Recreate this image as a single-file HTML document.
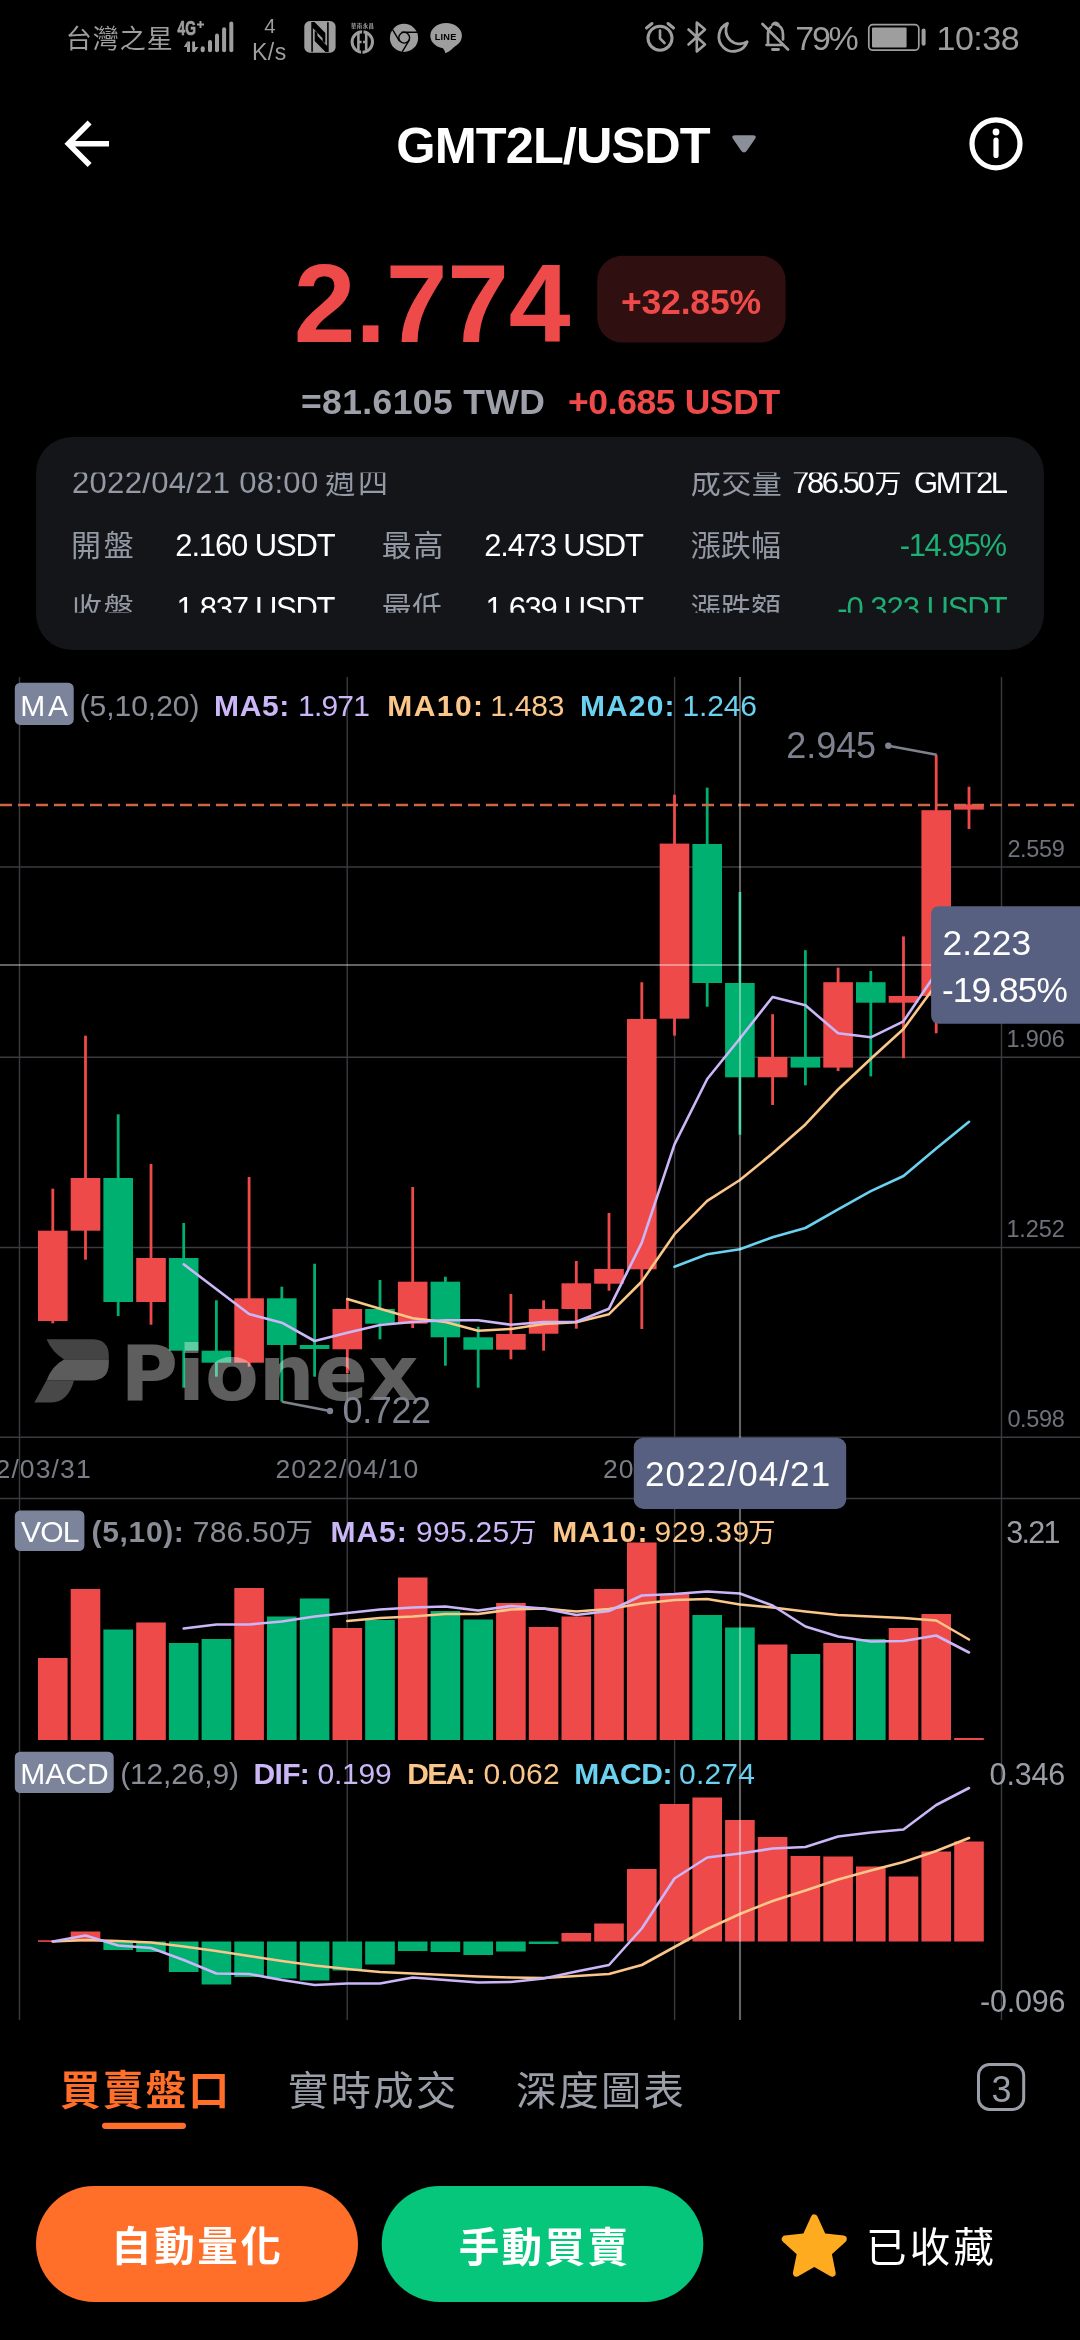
<!DOCTYPE html>
<html lang="zh-Hant">
<head>
<meta charset="utf-8">
<meta name="viewport" content="width=1080">
<title>GMT2L/USDT</title>
<style>
html,body{margin:0;padding:0;background:#000;}
body{width:1080px;height:2340px;position:relative;overflow:hidden;}
svg{position:absolute;left:0;top:0;display:block;will-change:transform;}
svg text{font-family:"Liberation Sans","Noto Sans CJK TC",sans-serif;white-space:pre;}
</style>
</head>
<body>
<svg width="1080" height="2340" viewBox="0 0 1080 2340">
<defs><clipPath id="pclip"><rect x="0" y="472.6" width="1080" height="140.2"/></clipPath></defs>
<rect x="0" y="0" width="1080" height="2340" fill="#000"/>
<g id="status">
<text x="65.7" y="47.7" font-size="26" fill="#9e9e9e" letter-spacing="1.00">台灣之星</text>
<text x="177.6" y="35.4" font-size="20" font-weight="bold" fill="#9e9e9e" stroke="#9e9e9e" stroke-width="0.7" textLength="18.4" lengthAdjust="spacingAndGlyphs">4G</text>
<path d="M200.5 21 V28 M197 24.5 H204" stroke="#9e9e9e" stroke-width="2" fill="none"/>
<path d="M187 52.1 V41.6 H190 V52.1 Z M187.2 41.6 L183.8 46.9 H187.2 Z" fill="#9e9e9e"/>
<path d="M192.2 41.4 V52.1 H195 V41.4 Z M194.8 52.1 L198.6 46.9 H194.8 Z" fill="#9e9e9e"/>
<rect x="200.7" y="46.2" width="4" height="6.1" rx="2" fill="#9e9e9e"/>
<rect x="208.0" y="39.9" width="4" height="12.4" rx="2" fill="#9e9e9e"/>
<rect x="215.0" y="33.6" width="4" height="18.7" rx="2" fill="#9e9e9e"/>
<rect x="222.1" y="27.3" width="4" height="25.0" rx="2" fill="#9e9e9e"/>
<rect x="229.3" y="21.4" width="4" height="30.9" rx="2" fill="#9e9e9e"/>
<text x="264.3" y="33.2" font-size="20.5" fill="#9e9e9e">4</text>
<text x="251.9" y="60.0" font-size="23" fill="#9e9e9e" letter-spacing="0.55">K/s</text>
<rect x="304.3" y="21.1" width="31.3" height="31.6" rx="5.5" fill="#9e9e9e"/>
<path d="M311.3 22 L314.5 22 L325.3 33 L325.3 43.3 L322.6 41 L322.6 38.2 L312.9 28 L312.9 51.8 L311.3 51.8 Z" fill="#000"/>
<path d="M328.7 52 L325.5 52 L314.7 41 L314.7 30.7 L317.4 33 L317.4 35.8 L327.1 46 L327.1 22.2 L328.7 22.2 Z" fill="#000"/>
<circle cx="362.3" cy="42" r="10.2" fill="none" stroke="#9e9e9e" stroke-width="3"/>
<path d="M358.4 33.5 V50.5 M366.2 33.5 V50.5 M358.4 42 H366.2" stroke="#9e9e9e" stroke-width="2.6" fill="none"/>
<path d="M362.9 30 L361.7 54" stroke="#000" stroke-width="1.4"/>
<text x="351" y="28" font-size="5.4" font-weight="bold" fill="#9e9e9e" textLength="23">華南永昌</text>
<circle cx="404" cy="37.9" r="14.1" fill="#9e9e9e"/>
<circle cx="404.2" cy="37.7" r="5.4" fill="none" stroke="#000" stroke-width="1.4"/>
<path d="M401.5 32.2 H417.6 M392.6 29.6 L399.6 41.3 M409.4 39.8 L402.2 51.9" stroke="#000" stroke-width="1.4" fill="none"/>
<ellipse cx="446.1" cy="35.8" rx="15.8" ry="12.7" fill="#9e9e9e"/>
<path d="M441 46.5 Q445 49.5 445.3 53.2 Q452 50.5 456 44.5 Z" fill="#9e9e9e"/>
<text x="434.8" y="39.7" font-size="9.2" fill="#000" font-weight="bold" letter-spacing="0.20">LINE</text>
<circle cx="660" cy="38.2" r="12" fill="none" stroke="#9e9e9e" stroke-width="3"/>
<path d="M660 30.5 V38.5 L664.5 43" fill="none" stroke="#9e9e9e" stroke-width="2.6" stroke-linecap="round"/>
<path d="M646.5 28 L652 23.5 M673.5 28 L668 23.5" stroke="#9e9e9e" stroke-width="3" stroke-linecap="round"/>
<path d="M688.5 29.5 L705 44.5 L696.8 51.5 V22.5 L705 29.5 L688.5 44.5" fill="none" stroke="#9e9e9e" stroke-width="2.6" stroke-linejoin="round" stroke-linecap="round"/>
<path d="M727.6 23.4 A14.6 14.6 0 1 0 747.2 41.7 A13.8 13.8 0 0 1 727.6 23.4 Z" fill="none" stroke="#9e9e9e" stroke-width="2.8" stroke-linejoin="round"/>
<path d="M766.5 45 H783 M768 45 V34.5 Q768 29 771 27 M775.5 24.5 Q783 26 783 34.5 V39.5 M772.5 24.7 Q775.5 21 778.5 24.7" fill="none" stroke="#9e9e9e" stroke-width="2.7" stroke-linecap="round"/>
<path d="M772.5 49.5 H778.5" stroke="#9e9e9e" stroke-width="2.8" stroke-linecap="round"/>
<path d="M762.5 24 L788 49.5" stroke="#9e9e9e" stroke-width="2.7" stroke-linecap="round"/>
<text x="795.2" y="50.0" font-size="34" fill="#9e9e9e" letter-spacing="-2.20">79%</text>
<rect x="868.8" y="24.6" width="50" height="25.6" rx="4" fill="none" stroke="#9e9e9e" stroke-width="1.7"/>
<rect x="872" y="27.4" width="34.6" height="20" rx="1" fill="#9e9e9e"/>
<rect x="921.6" y="28.6" width="4" height="17.2" rx="2" fill="#9e9e9e"/>
<text x="936.5" y="49.9" font-size="34" fill="#9e9e9e" letter-spacing="-0.50">10:38</text>
</g>
<g id="header">
<path d="M109 143.7 H68.5 M89.6 122.4 L68.4 143.7 L89.6 165" fill="none" stroke="#fff" stroke-width="5.6" stroke-linejoin="miter"/>
<text x="396.3" y="163.3" font-size="50.5" fill="#fff" font-weight="bold" letter-spacing="-0.92">GMT2L/USDT</text>
<path d="M735.5 135.2 H752.5 Q757.8 135.2 754.6 139.6 L746.8 150.7 Q744 154.3 741.2 150.7 L733.4 139.6 Q730.2 135.2 735.5 135.2 Z" fill="#8b8f9a"/>
<circle cx="996" cy="143.8" r="24" fill="none" stroke="#fff" stroke-width="5.2"/>
<circle cx="996" cy="132" r="3.4" fill="#fff"/>
<path d="M996 140.2 V155.4" stroke="#fff" stroke-width="5.2" stroke-linecap="round"/>
</g>
<g id="price">
<text x="293.8" y="341.9" font-size="111" fill="#ef4a4a" font-weight="bold" letter-spacing="-0.25">2.774</text>
<rect x="597.2" y="255.8" width="188.4" height="86.8" rx="25" fill="#2f0f0f"/>
<text x="621.0" y="313.9" font-size="35.6" fill="#ef4a4a" font-weight="bold" letter-spacing="-0.22">+32.85%</text>
<text x="301.0" y="413.8" font-size="35.5" fill="#9da0a9" font-weight="bold" letter-spacing="0.38">=81.6105 TWD</text>
<text x="568.0" y="413.8" font-size="35.5" fill="#ef4a4a" font-weight="bold" letter-spacing="-0.40">+0.685 USDT</text>
</g>
<g id="panel">
<rect x="36" y="437" width="1008" height="213" rx="36" fill="#141519"/>
<g clip-path="url(#pclip)">
<text x="72.0" y="492.5" font-size="31" fill="#949aa5" letter-spacing="0.32">2022/04/21 08:00</text>
<text x="325.3" y="492.5" font-size="30" fill="#949aa5" letter-spacing="2.70">週四</text>
<text x="690.7" y="492.5" font-size="30" fill="#949aa5" letter-spacing="0.50">成交量</text>
<text x="792.3" y="492.5" font-size="31" fill="#fff" letter-spacing="-2.46">786.50</text>
<text x="874.5" y="492.5" font-size="27" fill="#fff">万</text>
<text x="914.0" y="492.5" font-size="31" fill="#fff" letter-spacing="-2.32">GMT2L</text>
<text x="71.0" y="555.7" font-size="30" fill="#949aa5" letter-spacing="2.70">開盤</text>
<text x="175.3" y="555.7" font-size="31" fill="#fff" letter-spacing="-1.14">2.160 USDT</text>
<text x="381.7" y="555.7" font-size="30" fill="#949aa5" letter-spacing="1.50">最高</text>
<text x="484.3" y="555.7" font-size="31" fill="#fff" letter-spacing="-1.21">2.473 USDT</text>
<text x="690.7" y="555.7" font-size="30" fill="#949aa5" letter-spacing="0.15">漲跌幅</text>
<text x="899.7" y="555.7" font-size="31" fill="#1fae74" letter-spacing="-1.33">-14.95%</text>
<text x="72.0" y="618.8" font-size="30" fill="#949aa5" letter-spacing="1.70">收盤</text>
<text x="176.5" y="618.8" font-size="31" fill="#fff" letter-spacing="-1.28">1.837 USDT</text>
<text x="381.7" y="617.8" font-size="30" fill="#949aa5" letter-spacing="0.50">最低</text>
<text x="485.5" y="618.8" font-size="31" fill="#fff" letter-spacing="-1.34">1.639 USDT</text>
<text x="690.7" y="618.8" font-size="30" fill="#949aa5" letter-spacing="0.15">漲跌額</text>
<text x="837.3" y="618.8" font-size="31" fill="#1fae74" letter-spacing="-1.06">-0.323 USDT</text>
</g>
</g>
<g id="chart">
<line x1="19.5" y1="677" x2="19.5" y2="2020" stroke="#3a3b40" stroke-width="1.4"/>
<line x1="347.2" y1="677" x2="347.2" y2="2020" stroke="#3a3b40" stroke-width="1.4"/>
<line x1="674.6" y1="677" x2="674.6" y2="2020" stroke="#3a3b40" stroke-width="1.4"/>
<line x1="1001.5" y1="677" x2="1001.5" y2="2020" stroke="#3a3b40" stroke-width="1.4"/>
<line x1="0" y1="867.0" x2="1080" y2="867.0" stroke="#3a3b40" stroke-width="1.4"/>
<line x1="0" y1="1057.2" x2="1080" y2="1057.2" stroke="#3a3b40" stroke-width="1.4"/>
<line x1="0" y1="1247.5" x2="1080" y2="1247.5" stroke="#3a3b40" stroke-width="1.4"/>
<line x1="0" y1="1437.3" x2="1080" y2="1437.3" stroke="#3a3b40" stroke-width="1.4"/>
<line x1="0" y1="1498.5" x2="1080" y2="1498.5" stroke="#3a3b40" stroke-width="1.4"/>
<line x1="52.8" y1="1188.7" x2="52.8" y2="1323.3" stroke="#ef4a4a" stroke-width="2.8"/>
<rect x="38.0" y="1230.7" width="29.6" height="90.3" fill="#ef4a4a"/>
<line x1="85.5" y1="1035.7" x2="85.5" y2="1259.7" stroke="#ef4a4a" stroke-width="2.8"/>
<rect x="70.7" y="1178.0" width="29.6" height="52.7" fill="#ef4a4a"/>
<line x1="118.2" y1="1114.3" x2="118.2" y2="1316.0" stroke="#00b070" stroke-width="2.8"/>
<rect x="103.4" y="1178.0" width="29.6" height="124.0" fill="#00b070"/>
<line x1="151.0" y1="1164.0" x2="151.0" y2="1324.7" stroke="#ef4a4a" stroke-width="2.8"/>
<rect x="136.2" y="1258.0" width="29.6" height="44.0" fill="#ef4a4a"/>
<line x1="183.7" y1="1223.0" x2="183.7" y2="1387.7" stroke="#00b070" stroke-width="2.8"/>
<rect x="168.9" y="1258.0" width="29.6" height="92.7" fill="#00b070"/>
<line x1="216.4" y1="1300.3" x2="216.4" y2="1376.7" stroke="#00b070" stroke-width="2.8"/>
<rect x="201.6" y="1350.7" width="29.6" height="12.0" fill="#00b070"/>
<line x1="249.1" y1="1177.0" x2="249.1" y2="1366.7" stroke="#ef4a4a" stroke-width="2.8"/>
<rect x="234.3" y="1298.3" width="29.6" height="64.4" fill="#ef4a4a"/>
<line x1="281.8" y1="1286.7" x2="281.8" y2="1401.7" stroke="#00b070" stroke-width="2.8"/>
<rect x="267.0" y="1298.3" width="29.6" height="46.7" fill="#00b070"/>
<line x1="314.6" y1="1263.7" x2="314.6" y2="1376.7" stroke="#00b070" stroke-width="2.8"/>
<rect x="299.8" y="1345.0" width="29.6" height="4.0" fill="#00b070"/>
<line x1="347.3" y1="1300.0" x2="347.3" y2="1373.3" stroke="#ef4a4a" stroke-width="2.8"/>
<rect x="332.5" y="1309.0" width="29.6" height="40.3" fill="#ef4a4a"/>
<line x1="380.0" y1="1280.0" x2="380.0" y2="1339.3" stroke="#00b070" stroke-width="2.8"/>
<rect x="365.2" y="1309.0" width="29.6" height="14.7" fill="#00b070"/>
<line x1="412.7" y1="1187.0" x2="412.7" y2="1328.0" stroke="#ef4a4a" stroke-width="2.8"/>
<rect x="397.9" y="1281.7" width="29.6" height="42.0" fill="#ef4a4a"/>
<line x1="445.4" y1="1276.7" x2="445.4" y2="1365.7" stroke="#00b070" stroke-width="2.8"/>
<rect x="430.6" y="1281.7" width="29.6" height="55.6" fill="#00b070"/>
<line x1="478.2" y1="1326.7" x2="478.2" y2="1387.7" stroke="#00b070" stroke-width="2.8"/>
<rect x="463.4" y="1337.3" width="29.6" height="12.4" fill="#00b070"/>
<line x1="510.9" y1="1294.0" x2="510.9" y2="1359.3" stroke="#ef4a4a" stroke-width="2.8"/>
<rect x="496.1" y="1334.0" width="29.6" height="15.7" fill="#ef4a4a"/>
<line x1="543.6" y1="1300.3" x2="543.6" y2="1350.7" stroke="#ef4a4a" stroke-width="2.8"/>
<rect x="528.8" y="1309.0" width="29.6" height="24.7" fill="#ef4a4a"/>
<line x1="576.3" y1="1261.0" x2="576.3" y2="1328.7" stroke="#ef4a4a" stroke-width="2.8"/>
<rect x="561.5" y="1283.3" width="29.6" height="25.7" fill="#ef4a4a"/>
<line x1="609.0" y1="1213.0" x2="609.0" y2="1290.7" stroke="#ef4a4a" stroke-width="2.8"/>
<rect x="594.2" y="1269.0" width="29.6" height="14.7" fill="#ef4a4a"/>
<line x1="641.8" y1="982.2" x2="641.8" y2="1329.0" stroke="#ef4a4a" stroke-width="2.8"/>
<rect x="627.0" y="1019.0" width="29.6" height="250.3" fill="#ef4a4a"/>
<line x1="674.5" y1="794.7" x2="674.5" y2="1035.6" stroke="#ef4a4a" stroke-width="2.8"/>
<rect x="659.7" y="843.6" width="29.6" height="175.1" fill="#ef4a4a"/>
<line x1="707.2" y1="787.6" x2="707.2" y2="1006.7" stroke="#00b070" stroke-width="2.8"/>
<rect x="692.4" y="844.0" width="29.6" height="139.0" fill="#00b070"/>
<line x1="739.9" y1="892.0" x2="739.9" y2="1134.7" stroke="#00b070" stroke-width="2.8"/>
<rect x="725.1" y="983.0" width="29.6" height="94.3" fill="#00b070"/>
<line x1="772.6" y1="1014.2" x2="772.6" y2="1105.0" stroke="#ef4a4a" stroke-width="2.8"/>
<rect x="757.8" y="1057.0" width="29.6" height="20.3" fill="#ef4a4a"/>
<line x1="805.4" y1="950.2" x2="805.4" y2="1085.3" stroke="#00b070" stroke-width="2.8"/>
<rect x="790.6" y="1057.0" width="29.6" height="10.6" fill="#00b070"/>
<line x1="838.1" y1="967.6" x2="838.1" y2="1071.0" stroke="#ef4a4a" stroke-width="2.8"/>
<rect x="823.3" y="982.2" width="29.6" height="85.4" fill="#ef4a4a"/>
<line x1="870.8" y1="971.0" x2="870.8" y2="1076.4" stroke="#00b070" stroke-width="2.8"/>
<rect x="856.0" y="982.2" width="29.6" height="20.5" fill="#00b070"/>
<line x1="903.5" y1="936.4" x2="903.5" y2="1058.2" stroke="#ef4a4a" stroke-width="2.8"/>
<rect x="888.7" y="996.0" width="29.6" height="6.7" fill="#ef4a4a"/>
<line x1="936.2" y1="754.7" x2="936.2" y2="1033.3" stroke="#ef4a4a" stroke-width="2.8"/>
<rect x="921.4" y="810.2" width="29.6" height="185.8" fill="#ef4a4a"/>
<line x1="969.0" y1="786.7" x2="969.0" y2="829.0" stroke="#ef4a4a" stroke-width="2.8"/>
<rect x="954.2" y="804.4" width="29.6" height="5.2" fill="#ef4a4a"/>
<polyline points="674.5,1266.7 707.2,1254.2 739.9,1249.3 772.6,1237.3 805.4,1228.0 838.1,1209.3 870.8,1191.1 903.5,1176.0 936.2,1148.4 969.0,1121.8" fill="none" stroke="#6ad2f0" stroke-width="2.6" stroke-linejoin="round" stroke-linecap="round"/>
<polyline points="347.3,1299.0 380.0,1308.7 412.7,1318.3 445.4,1322.0 478.2,1330.7 510.9,1329.0 543.6,1324.0 576.3,1322.3 609.0,1314.2 641.8,1281.5 674.5,1234.2 707.2,1200.9 739.9,1180.0 772.6,1153.3 805.4,1124.4 838.1,1089.5 870.8,1058.7 903.5,1029.0 936.2,984.4" fill="none" stroke="#fbc689" stroke-width="2.6" stroke-linejoin="round" stroke-linecap="round"/>
<polyline points="183.7,1264.3 249.1,1314.0 281.8,1322.7 314.6,1341.0 347.3,1332.7 380.0,1325.0 412.7,1322.0 445.4,1320.3 478.2,1320.3 510.9,1324.7 543.6,1322.0 576.3,1321.7 609.0,1308.7 641.8,1242.7 674.5,1144.4 707.2,1079.0 739.9,1038.5 772.6,997.0 805.4,1005.3 838.1,1033.3 870.8,1037.3 903.5,1021.3 936.2,973.0" fill="none" stroke="#cbb6f8" stroke-width="2.6" stroke-linejoin="round" stroke-linecap="round"/>
<rect x="38.0" y="1658.0" width="29.6" height="82.0" fill="#ef4a4a"/>
<rect x="70.7" y="1589.0" width="29.6" height="151.0" fill="#ef4a4a"/>
<rect x="103.4" y="1629.5" width="29.6" height="110.5" fill="#00b070"/>
<rect x="136.2" y="1622.5" width="29.6" height="117.5" fill="#ef4a4a"/>
<rect x="168.9" y="1643.0" width="29.6" height="97.0" fill="#00b070"/>
<rect x="201.6" y="1639.0" width="29.6" height="101.0" fill="#00b070"/>
<rect x="234.3" y="1588.0" width="29.6" height="152.0" fill="#ef4a4a"/>
<rect x="267.0" y="1616.5" width="29.6" height="123.5" fill="#00b070"/>
<rect x="299.8" y="1598.5" width="29.6" height="141.5" fill="#00b070"/>
<rect x="332.5" y="1628.0" width="29.6" height="112.0" fill="#ef4a4a"/>
<rect x="365.2" y="1620.0" width="29.6" height="120.0" fill="#00b070"/>
<rect x="397.9" y="1577.5" width="29.6" height="162.5" fill="#ef4a4a"/>
<rect x="430.6" y="1611.0" width="29.6" height="129.0" fill="#00b070"/>
<rect x="463.4" y="1619.5" width="29.6" height="120.5" fill="#00b070"/>
<rect x="496.1" y="1603.0" width="29.6" height="137.0" fill="#ef4a4a"/>
<rect x="528.8" y="1627.0" width="29.6" height="113.0" fill="#ef4a4a"/>
<rect x="561.5" y="1616.5" width="29.6" height="123.5" fill="#ef4a4a"/>
<rect x="594.2" y="1589.0" width="29.6" height="151.0" fill="#ef4a4a"/>
<rect x="627.0" y="1542.5" width="29.6" height="197.5" fill="#ef4a4a"/>
<rect x="659.7" y="1594.0" width="29.6" height="146.0" fill="#ef4a4a"/>
<rect x="692.4" y="1615.0" width="29.6" height="125.0" fill="#00b070"/>
<rect x="725.1" y="1627.5" width="29.6" height="112.5" fill="#00b070"/>
<rect x="757.8" y="1644.5" width="29.6" height="95.5" fill="#ef4a4a"/>
<rect x="790.6" y="1654.0" width="29.6" height="86.0" fill="#00b070"/>
<rect x="823.3" y="1643.0" width="29.6" height="97.0" fill="#ef4a4a"/>
<rect x="856.0" y="1639.0" width="29.6" height="101.0" fill="#00b070"/>
<rect x="888.7" y="1628.0" width="29.6" height="112.0" fill="#ef4a4a"/>
<rect x="921.4" y="1614.0" width="29.6" height="126.0" fill="#ef4a4a"/>
<rect x="954.2" y="1738.0" width="29.6" height="2.0" fill="#ef4a4a"/>
<polyline points="347.3,1621.0 380.0,1618.0 412.7,1616.5 445.4,1614.0 478.2,1614.0 510.9,1609.5 543.6,1608.5 576.3,1611.5 609.0,1609.0 641.8,1603.5 674.5,1600.0 707.2,1599.0 739.9,1604.5 772.6,1607.5 805.4,1611.5 838.1,1615.0 870.8,1616.5 903.5,1618.0 936.2,1620.5 969.0,1639.5" fill="none" stroke="#fbc689" stroke-width="2.6" stroke-linejoin="round" stroke-linecap="round"/>
<polyline points="183.7,1628.5 216.4,1624.5 249.1,1624.5 281.8,1621.5 314.6,1616.5 347.3,1613.0 380.0,1609.5 412.7,1607.5 445.4,1606.5 478.2,1610.5 510.9,1606.0 543.6,1608.5 576.3,1615.0 609.0,1611.0 641.8,1595.5 674.5,1594.0 707.2,1591.5 739.9,1593.5 772.6,1605.5 805.4,1626.5 838.1,1636.5 870.8,1641.5 903.5,1641.0 936.2,1635.5 969.0,1652.5" fill="none" stroke="#cbb6f8" stroke-width="2.6" stroke-linejoin="round" stroke-linecap="round"/>
<rect x="38.0" y="1940.3" width="29.6" height="1.6" fill="#ef4a4a"/>
<rect x="70.7" y="1931.5" width="29.6" height="10.0" fill="#ef4a4a"/>
<rect x="103.4" y="1941.5" width="29.6" height="8.5" fill="#00b070"/>
<rect x="136.2" y="1941.5" width="29.6" height="10.5" fill="#00b070"/>
<rect x="168.9" y="1941.5" width="29.6" height="30.5" fill="#00b070"/>
<rect x="201.6" y="1941.5" width="29.6" height="43.0" fill="#00b070"/>
<rect x="234.3" y="1941.5" width="29.6" height="35.5" fill="#00b070"/>
<rect x="267.0" y="1941.5" width="29.6" height="37.0" fill="#00b070"/>
<rect x="299.8" y="1941.5" width="29.6" height="39.0" fill="#00b070"/>
<rect x="332.5" y="1941.5" width="29.6" height="29.0" fill="#00b070"/>
<rect x="365.2" y="1941.5" width="29.6" height="23.0" fill="#00b070"/>
<rect x="397.9" y="1941.5" width="29.6" height="9.5" fill="#00b070"/>
<rect x="430.6" y="1941.5" width="29.6" height="10.5" fill="#00b070"/>
<rect x="463.4" y="1941.5" width="29.6" height="13.5" fill="#00b070"/>
<rect x="496.1" y="1941.5" width="29.6" height="10.0" fill="#00b070"/>
<rect x="528.8" y="1941.5" width="29.6" height="2.5" fill="#00b070"/>
<rect x="561.5" y="1933.0" width="29.6" height="8.5" fill="#ef4a4a"/>
<rect x="594.2" y="1923.5" width="29.6" height="18.0" fill="#ef4a4a"/>
<rect x="627.0" y="1869.0" width="29.6" height="72.5" fill="#ef4a4a"/>
<rect x="659.7" y="1804.0" width="29.6" height="137.5" fill="#ef4a4a"/>
<rect x="692.4" y="1797.5" width="29.6" height="144.0" fill="#ef4a4a"/>
<rect x="725.1" y="1820.0" width="29.6" height="121.5" fill="#ef4a4a"/>
<rect x="757.8" y="1837.0" width="29.6" height="104.5" fill="#ef4a4a"/>
<rect x="790.6" y="1856.0" width="29.6" height="85.5" fill="#ef4a4a"/>
<rect x="823.3" y="1856.5" width="29.6" height="85.0" fill="#ef4a4a"/>
<rect x="856.0" y="1866.5" width="29.6" height="75.0" fill="#ef4a4a"/>
<rect x="888.7" y="1876.5" width="29.6" height="65.0" fill="#ef4a4a"/>
<rect x="921.4" y="1851.5" width="29.6" height="90.0" fill="#ef4a4a"/>
<rect x="954.2" y="1841.5" width="29.6" height="100.0" fill="#ef4a4a"/>
<polyline points="52.8,1941.5 85.5,1940.0 118.2,1941.0 151.0,1942.5 183.7,1946.5 216.4,1951.0 249.1,1956.0 281.8,1961.0 314.6,1965.5 347.3,1969.0 380.0,1972.0 412.7,1973.5 445.4,1975.0 478.2,1976.5 510.9,1977.5 543.6,1978.0 576.3,1976.0 609.0,1974.0 641.8,1965.0 674.5,1947.0 707.2,1929.0 739.9,1914.0 772.6,1901.0 805.4,1890.5 838.1,1879.5 870.8,1870.5 903.5,1862.0 936.2,1851.0 969.0,1838.0" fill="none" stroke="#fbc689" stroke-width="2.6" stroke-linejoin="round" stroke-linecap="round"/>
<polyline points="52.8,1941.5 85.5,1935.5 118.2,1945.5 151.0,1948.0 183.7,1960.0 216.4,1973.5 249.1,1974.0 281.8,1980.0 314.6,1985.0 347.3,1983.5 380.0,1983.5 412.7,1977.5 445.4,1980.0 478.2,1982.5 510.9,1982.0 543.6,1978.5 576.3,1971.5 609.0,1965.0 641.8,1928.5 674.5,1878.5 707.2,1857.5 739.9,1853.5 772.6,1848.5 805.4,1847.0 838.1,1836.5 870.8,1832.5 903.5,1829.5 936.2,1805.0 969.0,1788.0" fill="none" stroke="#cbb6f8" stroke-width="2.6" stroke-linejoin="round" stroke-linecap="round"/>
</g>
<g id="overlay">
<line x1="0" y1="805" x2="1080" y2="805" stroke="#cf6349" stroke-width="2.6" stroke-dasharray="12,6"/>
<line x1="740" y1="677" x2="740" y2="2020" stroke="#ffffff" stroke-opacity="0.39" stroke-width="2.1"/>
<line x1="0" y1="965" x2="1080" y2="965" stroke="#ffffff" stroke-opacity="0.39" stroke-width="2.1"/>
<path d="M46.5 1339.3 H92 Q108.8 1339.3 108.8 1356 V1359.6 H64 Q52 1352 46.5 1339.3 Z" fill="#444444"/><path d="M64 1359.6 H108.8 V1363 Q108.8 1380.4 91.5 1380.4 H46.5 Q52 1366 64 1359.6 Z" fill="#5c5c5c"/><path d="M46.5 1380.4 H74 Q68 1402.6 50 1402.6 H34.3 Z" fill="#484848"/>
<text x="120.5" y="1399.6" font-size="76.4" font-weight="bold" fill="#fff" fill-opacity="0.37" textLength="298" lengthAdjust="spacingAndGlyphs" style="font-family:'DejaVu Sans','Liberation Sans',sans-serif">Pionex</text>
<polyline points="936.7,754.7 888.3,745.7" fill="none" stroke="#7e828e" stroke-width="2.4"/>
<circle cx="888.3" cy="745.7" r="3.2" fill="#7e828e"/>
<text x="786.3" y="758.3" font-size="36" fill="#7e828e" letter-spacing="-0.07">2.945</text>
<polyline points="282,1401.7 330,1411" fill="none" stroke="#7e828e" stroke-width="2.4"/>
<circle cx="330" cy="1411" r="3.2" fill="#7e828e"/>
<text x="342.6" y="1423.3" font-size="36" fill="#7e828e" letter-spacing="-0.40">0.722</text>
<text x="1007.4" y="856.7" font-size="23.5" fill="#6f727b" letter-spacing="-0.35">2.559</text>
<text x="1006.4" y="1046.9" font-size="23.5" fill="#6f727b" letter-spacing="-0.10">1.906</text>
<text x="1006.4" y="1237.2" font-size="23.5" fill="#6f727b" letter-spacing="-0.10">1.252</text>
<text x="1007.4" y="1427.0" font-size="23.5" fill="#6f727b" letter-spacing="-0.35">0.598</text>
<text x="-52.0" y="1478.3" font-size="26.5" fill="#7a7d86" letter-spacing="1.11">2022/03/31</text>
<text x="275.5" y="1478.3" font-size="26.5" fill="#7a7d86" letter-spacing="1.11">2022/04/10</text>
<text x="603.0" y="1478.3" font-size="26.5" fill="#7a7d86" letter-spacing="1.11">2022/04/20</text>
<rect x="14.8" y="682.7" width="58.9" height="42.2" rx="5.5" fill="#7b849b"/>
<text x="20.2" y="715.5" font-size="30" fill="#fff" letter-spacing="2.90">MA</text>
<text x="79.5" y="715.5" font-size="30" fill="#8a8d97" letter-spacing="-0.01">(5,10,20)</text>
<text x="214.0" y="715.5" font-size="30" fill="#cbb6f8" font-weight="bold" letter-spacing="0.67">MA5:</text>
<text x="298.0" y="715.5" font-size="30" fill="#cbb6f8" letter-spacing="-0.78">1.971</text>
<text x="387.3" y="715.5" font-size="30" fill="#fbc689" font-weight="bold" letter-spacing="1.42">MA10:</text>
<text x="490.2" y="715.5" font-size="30" fill="#fbc689" letter-spacing="-0.23">1.483</text>
<text x="579.9" y="715.5" font-size="30" fill="#6ad2f0" font-weight="bold" letter-spacing="1.15">MA20:</text>
<text x="682.4" y="715.5" font-size="30" fill="#6ad2f0" letter-spacing="-0.12">1.246</text>
<rect x="14.8" y="1510.4" width="69.6" height="40.7" rx="5.5" fill="#7b849b"/>
<text x="21.1" y="1542.1" font-size="30" fill="#fff" letter-spacing="-0.80">VOL</text>
<text x="91.6" y="1542.1" font-size="30" fill="#8a8d97" font-weight="bold" letter-spacing="0.65">(5,10):</text>
<text x="192.7" y="1542.1" font-size="30" fill="#8a8d97" letter-spacing="0.26">786.50</text>
<text x="285.5" y="1542.1" font-size="27.5" fill="#8a8d97">万</text>
<text x="330.4" y="1542.1" font-size="30" fill="#cbb6f8" font-weight="bold" letter-spacing="1.00">MA5:</text>
<text x="415.9" y="1542.1" font-size="30" fill="#cbb6f8" letter-spacing="0.32">995.25</text>
<text x="509.0" y="1542.1" font-size="27.5" fill="#cbb6f8">万</text>
<text x="552.2" y="1542.1" font-size="30" fill="#fbc689" font-weight="bold" letter-spacing="1.30">MA10:</text>
<text x="654.6" y="1542.1" font-size="30" fill="#fbc689" letter-spacing="0.58">929.39</text>
<text x="748.0" y="1542.1" font-size="27.5" fill="#fbc689">万</text>
<text x="1006.2" y="1542.8" font-size="30.5" fill="#9a9da6" letter-spacing="-1.67">3.21</text>
<rect x="14.8" y="1751.7" width="98.9" height="41.4" rx="5.5" fill="#7b849b"/>
<text x="20.2" y="1784.3" font-size="30" fill="#fff" letter-spacing="0.07">MACD</text>
<text x="120.2" y="1784.3" font-size="30" fill="#8a8d97" letter-spacing="-0.15">(12,26,9)</text>
<text x="253.6" y="1784.3" font-size="30" fill="#cbb6f8" font-weight="bold" letter-spacing="-0.73">DIF:</text>
<text x="317.5" y="1784.3" font-size="30" fill="#cbb6f8" letter-spacing="-0.20">0.199</text>
<text x="407.3" y="1784.3" font-size="30" fill="#fbc689" font-weight="bold" letter-spacing="-1.67">DEA:</text>
<text x="483.4" y="1784.3" font-size="30" fill="#fbc689" letter-spacing="0.28">0.062</text>
<text x="574.3" y="1784.3" font-size="30" fill="#6ad2f0" font-weight="bold" letter-spacing="-0.42">MACD:</text>
<text x="679.0" y="1784.3" font-size="30" fill="#6ad2f0" letter-spacing="0.20">0.274</text>
<text x="989.6" y="1785.0" font-size="30.5" fill="#9a9da6" letter-spacing="-0.17">0.346</text>
<text x="980.0" y="2012.2" font-size="30.5" fill="#9a9da6" letter-spacing="-0.22">-0.096</text>
<path d="M1080 906.2 H939.5 Q931.1 906.2 931.1 914.6 V1015.3 Q931.1 1023.7 939.5 1023.7 H1080 Z" fill="#586081"/>
<text x="942.4" y="955.1" font-size="35.3" fill="#fff" letter-spacing="0.13">2.223</text>
<text x="942.0" y="1002.2" font-size="35.3" fill="#fff" letter-spacing="-0.93">-19.85%</text>
<rect x="633.8" y="1437.8" width="212.4" height="71.1" rx="9.5" fill="#586081"/>
<text x="645.0" y="1486.2" font-size="35" fill="#fff" letter-spacing="1.11">2022/04/21</text>
</g>
<g id="footer">
<text x="60.0" y="2105.0" font-size="40.5" fill="#ff6f2a" font-weight="bold" letter-spacing="2.33">買賣盤口</text>
<rect x="102" y="2122.7" width="84" height="6.2" rx="3.1" fill="#ff6f2a"/>
<text x="288.0" y="2105.3" font-size="40.3" fill="#9a9ea8" letter-spacing="2.33">實時成交</text>
<text x="516.0" y="2105.3" font-size="40.3" fill="#9a9ea8" letter-spacing="2.17">深度圖表</text>
<rect x="978.5" y="2064.5" width="45.2" height="44.9" rx="11" fill="none" stroke="#9a9ea8" stroke-width="3"/>
<text x="991.6" y="2101.8" font-size="36" fill="#9a9ea8">3</text>
<rect x="36" y="2186" width="322" height="116" rx="58" fill="#ff6f2a"/>
<text x="111.0" y="2261.0" font-size="40.5" fill="#fff" font-weight="bold" letter-spacing="2.67">自動量化</text>
<rect x="381.7" y="2186" width="321.6" height="116" rx="58" fill="#06c67c"/>
<text x="458.7" y="2262.0" font-size="40.5" fill="#fff" font-weight="bold" letter-spacing="2.43">手動買賣</text>
<path d="M814.3 2218.0 L822.8 2236.8 L843.3 2239.1 L828.1 2253.0 L832.2 2273.2 L814.3 2263.0 L796.4 2273.2 L800.5 2253.0 L785.3 2239.1 L805.8 2236.8 Z" fill="#ffab1f" stroke="#ffab1f" stroke-width="7" stroke-linejoin="round"/>
<text x="866.0" y="2262.0" font-size="40.5" fill="#fff" letter-spacing="3.25">已收藏</text>
</g>
</svg>
</body>
</html>
